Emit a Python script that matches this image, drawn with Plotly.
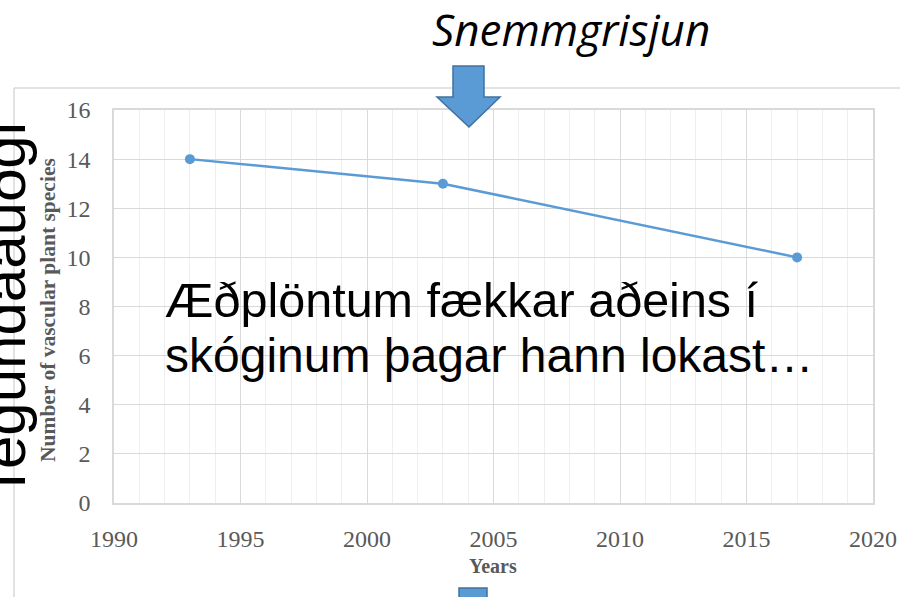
import plotly.graph_objects as go

# ---- data ----
years = [1993, 2003, 2017]
species = [14, 13, 10]
x_ticks = [1990, 1995, 2000, 2005, 2010, 2015, 2020]
y_ticks = [0, 2, 4, 6, 8, 10, 12, 14, 16]

title_text = "Snemmgrisjun"
side_text = "Tegundaauðgi"
note_line1 = "Æðplöntum fækkar aðeins í"
note_line2 = "skóginum þagar hann lokast…"
y_title = "Number of vascular plant species"
x_title = "Years"

W, H = 900, 597
L, R, T, B = 114, 27, 110, 94
PW, PH = W - L - R, H - T - B


def px(xp):
    return (xp - L) / PW


def py(yp):
    return (H - B - yp) / PH


BLUE = "#5B9BD5"
DARKBLUE = "#41719C"
GRID = "#d9d9d9"
TICKC = "#595959"

fig = go.Figure()
fig.add_trace(go.Scatter(
    x=years, y=species, mode="lines+markers",
    line=dict(color=BLUE, width=2.5),
    marker=dict(color=BLUE, size=10),
    showlegend=False, hoverinfo="skip",
))

tickfont = dict(family="Liberation Serif, Times New Roman, serif", size=24, color=TICKC)

fig.update_layout(
    width=W, height=H,
    margin=dict(l=L, r=R, t=T, b=B),
    paper_bgcolor="white", plot_bgcolor="white",
    xaxis=dict(
        range=[1990, 2020], tickvals=x_ticks, ticktext=[str(v) for v in x_ticks],
        showgrid=True, gridcolor=GRID, gridwidth=1,
        minor=dict(dtick=1, showgrid=True, gridcolor="#eeeeee", gridwidth=1),
        showline=True, linecolor=GRID, linewidth=1.5, mirror=True,
        ticks="outside", ticklen=13, tickcolor="rgba(0,0,0,0)",
        tickfont=tickfont, zeroline=False, fixedrange=True, automargin=False,
    ),
    yaxis=dict(
        range=[0, 16], tickvals=y_ticks, ticktext=[str(v) for v in y_ticks],
        showgrid=True, gridcolor=GRID, gridwidth=1,
        showline=True, linecolor=GRID, linewidth=1.5, mirror=True,
        ticks="outside", ticklen=17, tickcolor="rgba(0,0,0,0)",
        tickfont=tickfont, zeroline=False, fixedrange=True, automargin=False,
    ),
)

shapes = []
# outer chart frame (left and top edges visible)
shapes.append(dict(type="line", xref="paper", yref="paper",
                   x0=px(14), x1=px(14), y0=py(88), y1=py(600),
                   line=dict(color=GRID, width=1.5), layer="below"))
shapes.append(dict(type="line", xref="paper", yref="paper",
                   x0=px(14), x1=px(905), y0=py(88), y1=py(88),
                   line=dict(color=GRID, width=1.5), layer="below"))

# down arrow
pts = [(453, 66), (484, 66), (484, 97), (500, 97), (469, 127), (437, 97), (453, 97)]
path = "M " + " L ".join(f"{px(a):.5f},{py(b):.5f}" for a, b in pts) + " Z"
shapes.append(dict(type="path", xref="paper", yref="paper", path=path,
                   fillcolor=BLUE, line=dict(color=DARKBLUE, width=1.5), layer="above"))
# bottom blue block
shapes.append(dict(type="rect", xref="paper", yref="paper",
                   x0=px(459), x1=px(487), y0=py(588), y1=py(600),
                   fillcolor=BLUE, line=dict(color=DARKBLUE, width=1.5), layer="above"))
fig.update_layout(shapes=shapes)

ann = []
ann.append(dict(text=title_text, xref="paper", yref="paper", x=px(571), y=py(29),
                xanchor="center", yanchor="middle", showarrow=False,
                font=dict(family="Open Sans, sans-serif", size=44, color="black", style="italic")))
ann.append(dict(text=side_text, xref="paper", yref="paper", x=px(4), y=py(311),
                xanchor="center", yanchor="middle", showarrow=False, textangle=-90,
                font=dict(family="Liberation Sans, Arial, sans-serif", size=60, color="black")))
ann.append(dict(text=note_line1, xref="paper", yref="paper", x=px(163), y=py(300),
                xanchor="left", yanchor="middle", showarrow=False,
                font=dict(family="Liberation Sans, Arial, sans-serif", size=48.5, color="black")))
ann.append(dict(text=note_line2, xref="paper", yref="paper", x=px(163), y=py(355),
                xanchor="left", yanchor="middle", showarrow=False,
                font=dict(family="Liberation Sans, Arial, sans-serif", size=48, color="black")))
ann.append(dict(text=f"<b>{y_title}</b>", xref="paper", yref="paper", x=px(48), y=py(310),
                xanchor="center", yanchor="middle", showarrow=False, textangle=-90,
                font=dict(family="Liberation Serif, Times New Roman, serif", size=21.5, color=TICKC)))
ann.append(dict(text=f"<b>{x_title}</b>", xref="paper", yref="paper", x=px(493), y=py(566),
                xanchor="center", yanchor="middle", showarrow=False,
                font=dict(family="Liberation Serif, Times New Roman, serif", size=20, color=TICKC)))
fig.update_layout(annotations=ann)

fig.write_html("out.html", config={"displayModeBar": False},
               post_script="document.body.style.margin='0';")
